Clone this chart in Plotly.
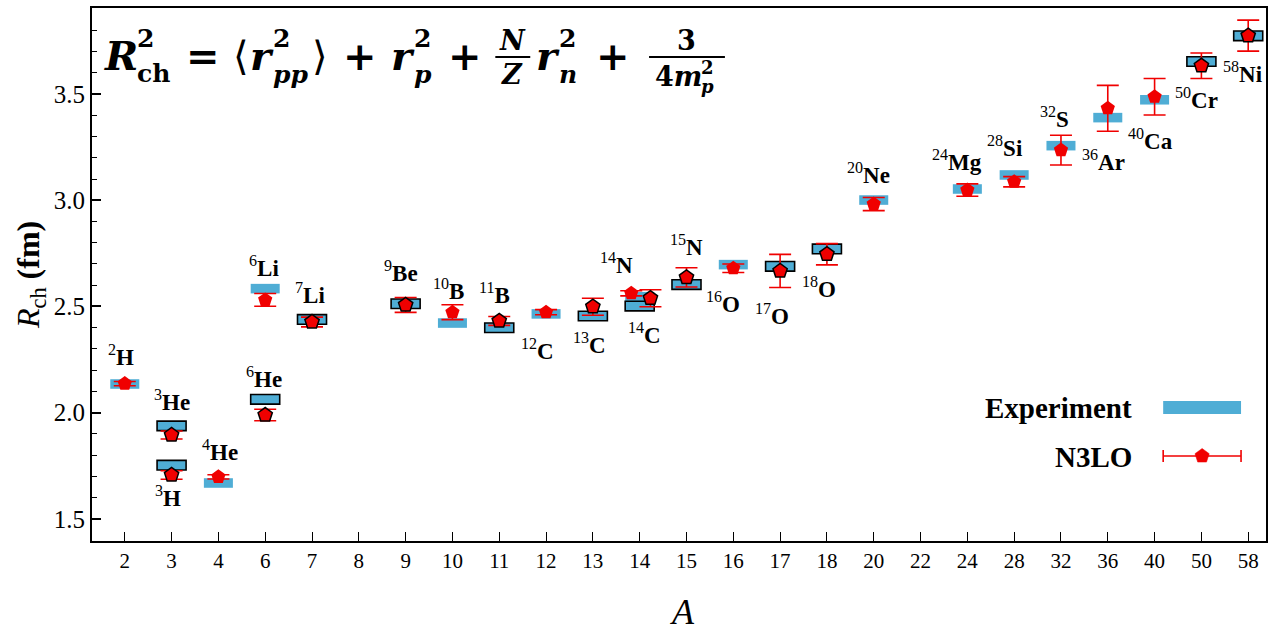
import plotly.graph_objects as go
import math

# ---------------- data ----------------
A_ticks = ["2", "3", "4", "6", "7", "8", "9", "10", "11", "12", "13", "14", "15",
           "16", "17", "18", "20", "22", "24", "28", "32", "36", "40", "50", "58"]

nuclei = ["2H", "3H", "3He", "4He", "6He", "6Li", "7Li", "9Be", "10B", "11B", "12C",
          "13C", "14C", "14N", "15N", "16O", "17O", "18O", "20Ne", "24Mg", "28Si",
          "32S", "36Ar", "40Ca", "50Cr", "58Ni"]
mass = [2, 3, 3, 4, 6, 6, 7, 9, 10, 11, 12, 13, 14, 14, 15, 16, 17, 18, 20, 24, 28,
        32, 36, 40, 50, 58]
r_exp = [2.135, 1.753, 1.938, 1.669, 2.063, 2.584, 2.439, 2.513, 2.422, 2.400, 2.465,
         2.455, 2.502, 2.546, 2.603, 2.697, 2.689, 2.771, 3.001, 3.053, 3.119,
         3.257, 3.389, 3.473, 3.653, 3.774]
r_n3lo = [2.137, 1.707, 1.895, 1.698, 1.989, 2.531, 2.427, 2.507, 2.473, 2.432, 2.473,
          2.499, 2.539, 2.562, 2.637, 2.680, 2.667, 2.746, 2.982, 3.048, 3.087,
          3.236, 3.433, 3.487, 3.633, 3.775]
r_n3lo_err = [0.010, 0.020, 0.019, 0.010, 0.027, 0.030, 0.023, 0.035, 0.035, 0.021, 0.012,
              0.040, 0.040, 0.012, 0.045, 0.020, 0.078, 0.050, 0.031, 0.029, 0.024,
              0.070, 0.108, 0.086, 0.060, 0.073]
# nuclei drawn with black outline (prediction set)
outlined = ["3H", "3He", "6He", "7Li", "9Be", "11B", "13C", "14C", "15N", "17O", "18O",
            "50Cr", "58Ni"]

# ---------------- styling / layout helpers ----------------
W, H = 1268, 631
ML, MR, MT, MB = 92, 0, 8, 90
PW, PH = W - ML - MR, H - MT - MB
XR = [-0.7, 24.38]
YR = [1.396, 3.905]
BAR_W = 0.62
BAR_H = 0.045
BLUE = "#4FADD5"
RED = "#F00000"

marker_shift = {"14N": -0.18, "14C": 0.23}

def xidx(a):
    return A_ticks.index(str(a))

def px2x(px):
    return XR[0] + (px - ML) / PW * (XR[1] - XR[0])

def py2y(py):
    return YR[1] - (py - MT) / PH * (YR[1] - YR[0])

def pxp(px):
    return (px - ML) / PW

def pyp(py):
    return (MT + PH - py) / PH

fig = go.Figure()

# experiment bars
for flag in (False, True):
    xs, bases, hs = [], [], []
    for n, a, v in zip(nuclei, mass, r_exp):
        if (n in outlined) == flag:
            xs.append(xidx(a))
            bases.append(v - BAR_H / 2)
            hs.append(BAR_H)
    fig.add_trace(go.Bar(
        x=xs, y=hs, base=bases, width=BAR_W,
        marker=dict(color=BLUE, line=dict(color="black", width=1.6 if flag else 0)),
        showlegend=False, hoverinfo="skip"))

# N3LO points
for flag in (False, True):
    xs, ys, es = [], [], []
    for n, a, v, e in zip(nuclei, mass, r_n3lo, r_n3lo_err):
        if (n in outlined) == flag:
            xs.append(xidx(a) + marker_shift.get(n, 0.0))
            ys.append(v)
            es.append(e)
    fig.add_trace(go.Scatter(
        x=xs, y=ys, mode="markers",
        marker=dict(symbol="pentagon", size=15, color=RED,
                    line=dict(color="black" if flag else RED, width=1.5 if flag else 0)),
        error_y=dict(type="data", array=es, color=RED, thickness=1.6, width=11),
        showlegend=False, hoverinfo="skip"))

# nucleus labels (pixel positions of label centres)
label_px = {
    "2H": (121, 355), "3He": (172, 400), "3H": (168, 496), "4He": (220, 450),
    "6He": (264, 377), "6Li": (264, 266), "7Li": (310, 293), "9Be": (402, 271),
    "10B": (449, 289), "11B": (495, 293), "12C": (538, 349), "13C": (590, 343),
    "14N": (617, 263), "14C": (645, 333), "15N": (688, 245), "16O": (724, 302),
    "17O": (773, 314), "18O": (820, 287), "20Ne": (870, 173), "24Mg": (958, 160),
    "28Si": (1007, 146), "32S": (1056, 117), "36Ar": (1105, 160), "40Ca": (1152, 139),
    "50Cr": (1198, 98), "58Ni": (1245, 72),
}
for n in nuclei:
    num = "".join(c for c in n if c.isdigit())
    sym = "".join(c for c in n if not c.isdigit())
    lx, ly = label_px[n]
    fig.add_annotation(
        x=px2x(lx), y=py2y(ly), xref="x", yref="y", showarrow=False,
        text=f"<sup>{num}</sup><b>{sym}</b>",
        font=dict(family="Liberation Serif", size=23, color="black"),
        xanchor="center", yanchor="middle")

# legend (drawn manually)
fig.add_annotation(x=pxp(1136), y=pyp(408), xref="paper", yref="paper", showarrow=False,
                   text="<b>Experiment</b>", xanchor="right", yanchor="middle",
                   font=dict(family="Liberation Serif", size=29, color="black"))
fig.add_annotation(x=pxp(1136), y=pyp(457), xref="paper", yref="paper", showarrow=False,
                   text="<b>N3LO</b>", xanchor="right", yanchor="middle",
                   font=dict(family="Liberation Serif", size=29, color="black"))
fig.add_shape(type="rect", xref="paper", yref="paper", x0=pxp(1165), x1=pxp(1243),
              y0=pyp(414), y1=pyp(401), fillcolor=BLUE, line=dict(width=0))
fig.add_shape(type="line", xref="paper", yref="paper", x0=pxp(1165), x1=pxp(1243),
              y0=pyp(456), y1=pyp(456), line=dict(color=RED, width=1.6))
for cx in (1165, 1243):
    fig.add_shape(type="line", xref="paper", yref="paper", x0=pxp(cx), x1=pxp(cx),
                  y0=pyp(450), y1=pyp(462), line=dict(color=RED, width=1.6))
pc, pr = (1204, 456), 7.5
pts = []
for k in range(5):
    ang = math.radians(90 + 72 * k)
    pts.append((pc[0] + pr * math.cos(ang), pc[1] - pr * math.sin(ang)))
path = "M " + " L ".join(f"{pxp(x):.5f},{pyp(y):.5f}" for x, y in pts) + " Z"
fig.add_shape(type="path", xref="paper", yref="paper", path=path,
              fillcolor=RED, line=dict(color=RED, width=0.5))

# formula (pieces)
FF = "DejaVu Serif"
def piece(text, x, y, size, anchor="left"):
    fig.add_annotation(x=pxp(x), y=pyp(y), xref="paper", yref="paper", showarrow=False,
                       text=text, xanchor=anchor, yanchor="middle",
                       font=dict(family=FF, size=size, color="black"))

def hline(x0, x1, y):
    fig.add_shape(type="line", xref="paper", yref="paper", x0=pxp(x0), x1=pxp(x1),
                  y0=pyp(y), y1=pyp(y), line=dict(color="black", width=2))

BIG, SC, FR, FS = 40, 25, 27, 18
piece("<b><i>R</i></b>", 102, 56, BIG)
piece("<b>2</b>", 135, 39, SC)
piece("<b>ch</b>", 135, 73, SC)
piece("<b>=</b>", 203, 56, BIG, "center")
piece("⟨", 241, 56, BIG, "center")
piece("<b><i>r</i></b>", 248, 56, BIG)
piece("<b>2</b>", 271, 39, SC)
piece("<b><i>pp</i></b>", 271, 74, SC)
piece("⟩", 320, 56, BIG, "center")
piece("<b>+</b>", 360, 56, BIG, "center")
piece("<b><i>r</i></b>", 390, 56, BIG)
piece("<b>2</b>", 413, 39, SC)
piece("<b><i>p</i></b>", 413, 74, SC)
piece("<b>+</b>", 466, 56, BIG, "center")
piece("<b><i>N</i></b>", 513, 41, FR, "center")
piece("<b><i>Z</i></b>", 513, 74, FR, "center")
hline(496, 531, 57)
piece("<b><i>r</i></b>", 535, 56, BIG)
piece("<b>2</b>", 558, 39, SC)
piece("<b><i>n</i></b>", 558, 74, SC)
piece("<b>+</b>", 614, 56, BIG, "center")
piece("<b>3</b>", 688, 41, FR, "center")
hline(650, 726, 57)
piece("<b>4<i>m</i></b>", 654, 76, FR)
piece("<b>2</b>", 700, 68, FS)
piece("<b><i>p</i></b>", 700, 87, FS)

# axis titles
fig.add_annotation(x=pxp(30), y=pyp(275), xref="paper", yref="paper", showarrow=False,
                   text="<i>R</i><sub>ch</sub> <b>(fm)</b>", textangle=-90,
                   xanchor="center", yanchor="middle",
                   font=dict(family="Liberation Serif", size=32, color="black"))
fig.add_annotation(x=pxp(684), y=pyp(612), xref="paper", yref="paper", showarrow=False,
                   text="<i>A</i>", xanchor="center", yanchor="middle",
                   font=dict(family="Liberation Serif", size=36, color="black"))

fig.update_layout(
    width=W, height=H, margin=dict(l=ML, r=MR, t=MT, b=MB),
    plot_bgcolor="white", paper_bgcolor="white", barmode="overlay",
    showlegend=False,
    xaxis=dict(range=XR, tickmode="array", tickvals=list(range(len(A_ticks))),
               ticktext=A_ticks, ticks="inside", ticklen=9, tickwidth=1.2,
               tickcolor="black", showline=True, linecolor="black", linewidth=2,
               mirror=True, showgrid=False, zeroline=False,
               tickfont=dict(family="Liberation Serif", size=21, color="black")),
    yaxis=dict(range=YR, tickmode="array", tickvals=[1.5, 2.0, 2.5, 3.0, 3.5],
               ticktext=["1.5", "2.0", "2.5", "3.0", "3.5"],
               ticks="inside", ticklen=9, tickwidth=1.5, tickcolor="black",
               minor=dict(tickvals=[round(1.4 + 0.1 * i, 1) for i in range(25)],
                          ticks="inside", ticklen=5, tickwidth=1.2, tickcolor="black"),
               showline=True, linecolor="black", linewidth=2, mirror=True,
               showgrid=False, zeroline=False,
               tickfont=dict(family="Liberation Serif", size=25, color="black")),
)

fig.write_html("out.html")
